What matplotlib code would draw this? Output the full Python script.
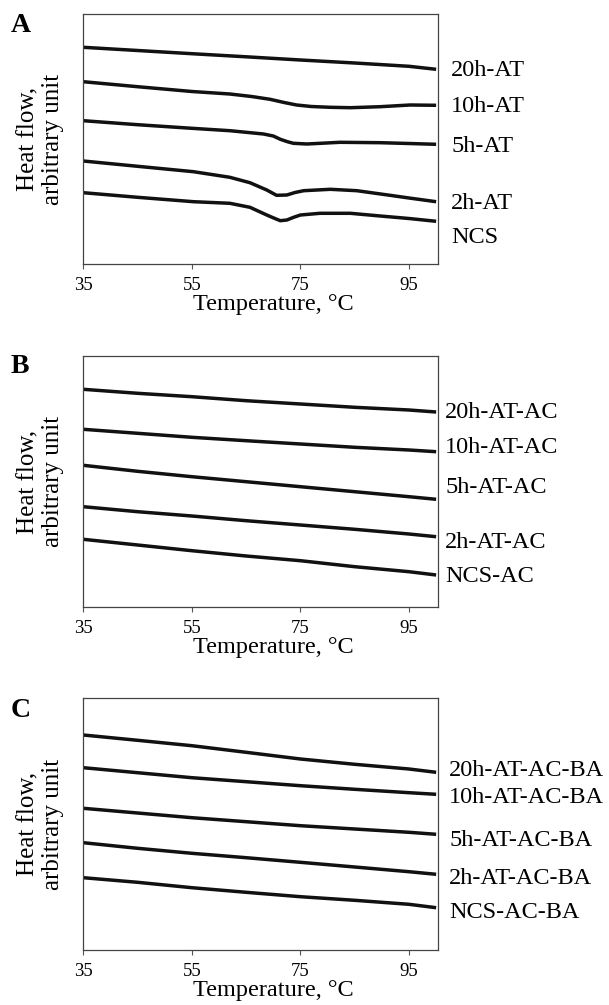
import matplotlib.pyplot as plt

plt.rcParams['font.family'] = ['Liberation Serif', 'DejaVu Serif']

# heat flow curves (arbitrary units) against temperature (deg C)
# panel A
a_20h_t = [35, 45, 55, 65, 75, 85, 95, 100]
a_20h = [216.7, 213.5, 210.3, 207.2, 204, 201, 197.7, 194.7]
a_10h_t = [35, 45, 55, 62, 66, 69.4, 72, 74.3, 77, 80.5, 84.2, 89.7, 95.2, 100]
a_10h = [182.3, 177.3, 172.5, 170, 167.5, 164.7, 161.5, 159, 157.5, 156.7, 156.3, 157.3, 159, 158.7]
a_5h_t = [35, 45, 55, 62, 68.2, 70, 71.3, 72.6, 73.7, 76.2, 82.3, 89.7, 95, 100]
a_5h = [143.3, 139.3, 135.7, 133.3, 130, 128, 124.7, 122.3, 120.7, 120, 121.7, 121.3, 120.5, 119.7]
a_2h_t = [35, 45, 55.3, 62, 65.7, 68.8, 70.6, 72.5, 74, 75.6, 80.5, 85.4, 91.5, 95, 100]
a_2h = [103, 97.7, 92.3, 86.7, 81.3, 74, 68.7, 69, 71.5, 73.3, 74.7, 73.3, 68.7, 66, 62.3]
a_ncs_t = [35, 45, 55.3, 62, 65.7, 68.8, 70.3, 71.3, 72.5, 73.8, 75, 78.6, 84.2, 89.7, 95, 100]
a_ncs = [71.3, 66.7, 62.3, 60.7, 56.7, 49, 45.5, 43.3, 44, 46.8, 49, 50.7, 50.7, 48, 45.5, 42.7]

# panels B and C share one temperature grid
t_grid = [35, 45, 55, 65, 75, 85, 95, 100]
b_20h = [217.7, 213.7, 210.3, 206.3, 203, 199.7, 197, 195]
b_10h = [177.7, 173.7, 169.7, 166.3, 163, 159.7, 157, 155.3]
b_5h = [141.7, 135.7, 130.3, 125.3, 120.3, 115.3, 110.3, 107.7]
b_2h = [100.3, 95.3, 91, 86.3, 82, 77.7, 73, 70.3]
b_ncs = [67.7, 62, 56.3, 51, 46.3, 40.3, 35.3, 32]

c_20h = [215, 209.7, 204.3, 197.7, 191, 185.7, 181, 177.7]
c_10h = [182.3, 177.3, 172.3, 168.3, 164.3, 160.7, 157.3, 155.7]
c_5h = [141.7, 137, 132.3, 128.3, 124.3, 121, 117.7, 115.7]
c_2h = [107.3, 101.7, 96.7, 92.3, 87.7, 83, 78.3, 75.7]
c_ncs = [72.3, 67.7, 62.3, 57.7, 53.3, 49.7, 45.7, 42.3]

a_labels = ['20h-AT', '10h-AT', '5h-AT', '2h-AT', 'NCS']
a_label_y = [194, 158, 118, 61, 27]
b_labels = ['20h-AT-AC', '10h-AT-AC', '5h-AT-AC', '2h-AT-AC', 'NCS-AC']
b_label_y = [195, 160, 120, 64, 30]
c_labels = ['20h-AT-AC-BA', '10h-AT-AC-BA', '5h-AT-AC-BA', '2h-AT-AC-BA', 'NCS-AC-BA']
c_label_y = [180, 153, 110, 72, 38]

xticks = [35, 55, 75, 95]

W, H = 609, 1005
fig = plt.figure(figsize=(W / 100, H / 100), dpi=100)

panels = [
    ('A', (14, 264), [(a_20h_t, a_20h), (a_10h_t, a_10h), (a_5h_t, a_5h), (a_2h_t, a_2h), (a_ncs_t, a_ncs)],
     a_labels, a_label_y, 13, 13),
    ('B', (356, 607), [(t_grid, b_20h), (t_grid, b_10h), (t_grid, b_5h), (t_grid, b_2h), (t_grid, b_ncs)],
     b_labels, b_label_y, 7, 354),
    ('C', (698, 950), [(t_grid, c_20h), (t_grid, c_10h), (t_grid, c_5h), (t_grid, c_2h), (t_grid, c_ncs)],
     c_labels, c_label_y, 11, 698),
]

for letter, (top, bot), curves, labels, label_y, pad, ly in panels:
    ax = fig.add_axes([83.3 / W, 1 - bot / H, 355 / W, (bot - top) / H])
    for t, v in curves:
        ax.plot(t, v, color='#111111', lw=2.5, solid_joinstyle='round', solid_capstyle='butt')
    ax.set_xlim(35, 100.4)
    ax.set_ylim(0, bot - top)
    ax.set_xticks(xticks)
    ax.set_xticklabels([str(x) for x in xticks], fontsize=13.5)
    ax.set_yticks([])
    ax.tick_params(axis='x', direction='out', length=3.5, width=0.8, color='#555555', pad=6)
    for s in ax.spines.values():
        s.set_linewidth(0.9)
        s.set_color('#444444')
    ax.set_xlabel('Temperature, °C', fontsize=17.5, labelpad=0, x=0.534)
    ax.set_ylabel('Heat flow,\narbitrary unit', fontsize=18, labelpad=14, linespacing=1.12)
    for lab, y in zip(labels, label_y):
        ax.annotate(lab, xy=(1, y), xycoords=('axes fraction', 'data'),
                    xytext=(pad * 0.72, 0), textcoords='offset points',
                    va='center', ha='left', fontsize=17.5)
    fig.text(11 / W, 1 - ly / H, letter, fontsize=20, fontweight='bold', va='top', ha='left')

fig.savefig('out.png', dpi=100)
